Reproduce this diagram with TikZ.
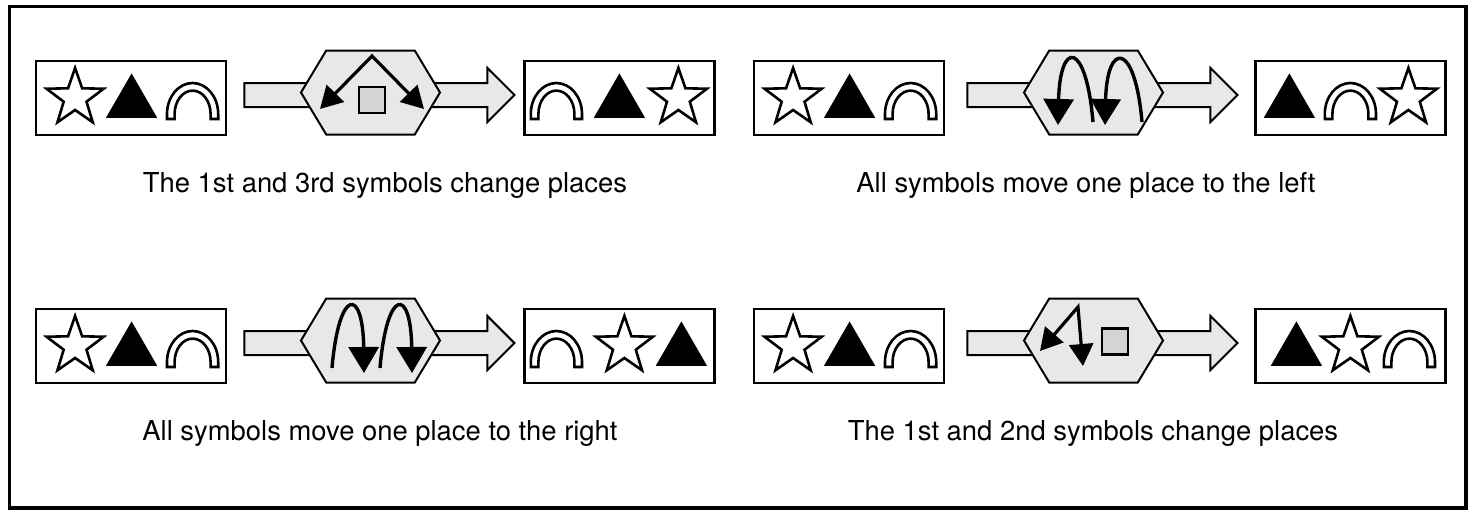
\documentclass[tikz,border=0pt]{standalone}
\usepackage{fontspec}
\setmainfont{TeX Gyre Heros}
\usepackage{xcolor}
\definecolor{cShade}{HTML}{E8E8E8}
\definecolor{cSquare}{HTML}{D4D4D4}
\usepackage{tikz}
\usetikzlibrary{positioning,arrows.meta,calc,shapes.geometric,shapes.arrows,shapes.symbols}
\tikzset{
  outer-frame/.style={draw,line width=1.6pt},
  sym-box/.style={draw,line width=1.4pt,minimum width=95pt,minimum height=37pt,inner sep=0pt},
  big-arrow/.style={single arrow,draw,line width=1pt,fill=cShade,inner xsep=0pt,inner ysep=5.5pt,
    minimum height=135pt,single arrow head extend=7.5pt,single arrow tip angle=90},
  hex-box/.style={signal,signal to=east and west,signal pointer angle=118,draw,line width=1pt,
    fill=cShade,minimum width=69.5pt,minimum height=42pt,inner sep=0pt},
  mid-square/.style={draw,line width=1.25pt,fill=cSquare,minimum size=13pt,inner sep=0pt},
  sym-star/.style={star,star points=5,star point ratio=2.5,draw,line width=1.3pt,fill=white,
    minimum size=30pt,inner sep=0pt},
  sym-tri/.style={regular polygon,regular polygon sides=3,draw,line width=0.8pt,fill=black,
    minimum size=28pt,inner sep=0pt},
  sym-arch/.pic={
    \draw[line width=1.3pt,fill=white] (-12.8pt,0pt) -- (-12.8pt,2.5pt)
      arc[start angle=180,end angle=0,x radius=12.8pt,y radius=15.5pt] -- (12.8pt,0pt)
      -- (9pt,0pt) -- (9pt,2.5pt)
      arc[start angle=0,end angle=180,x radius=9pt,y radius=11.7pt] -- (-9pt,0pt) -- cycle;
  },
  swap-arrow/.style={line width=1.6pt,line join=miter,
    {Triangle[length=11pt,width=12pt]}-{Triangle[length=11pt,width=12pt]}},
  shift-arrow/.style={line width=1.7pt,-{Triangle[length=13pt,width=15pt]}},
  caption/.style={font=\fontsize{13.7}{16}\selectfont,anchor=base},
}

\begin{document}
\begin{tikzpicture}[x=0.5pt,y=-0.5pt]
  \useasboundingbox (0,0) rectangle (1474,510);
  \draw[outer-frame] (9.5,6.5) rectangle (1466,508);

  % --- boxes and flow arrows ---
  \node[sym-box] (lb1) at (131,98) {};
  \node[sym-box,right=148pt of lb1] (rb1) {};
  \node[big-arrow,right=8pt of lb1,yshift=1.5pt] (ar1) {};
  \node[hex-box] (hx1) at (370.5,92.5) {};

  \node[sym-box] (lb2) at (849,98) {};
  \node[sym-box,right=154.5pt of lb2] (rb2) {};
  \node[big-arrow,right=10.5pt of lb2,yshift=1.5pt] (ar2) {};
  \node[hex-box] (hx2) at (1093.5,92.5) {};

  \node[sym-box] (lb3) at (131,346) {};
  \node[sym-box,right=148pt of lb3] (rb3) {};
  \node[big-arrow,right=8pt of lb3,yshift=1.5pt] (ar3) {};
  \node[hex-box] (hx3) at (370.5,340.5) {};

  \node[sym-box] (lb4) at (849,346) {};
  \node[sym-box,right=154.5pt of lb4] (rb4) {};
  \node[big-arrow,right=10.5pt of lb4,yshift=1.5pt] (ar4) {};
  \node[hex-box] (hx4) at (1093.5,340.5) {};

  % --- start symbols ---
  \foreach \b in {lb1,lb2,lb3,lb4}{
    \node[sym-star] (\b-star) at ($(\b.west)+(40.5,0)$) {};
    \node[sym-tri] (\b-tri) at ($(\b.west)+(97,5)$) {};
    \pic at ($(\b.west)+(158,21)$) {sym-arch};
  }

  % --- result symbols ---
  \pic at ($(rb1.west)+(33,21)$) {sym-arch};
  \node[sym-tri] (rb1-tri) at ($(rb1.west)+(96,5)$) {};
  \node[sym-star] (rb1-star) at ($(rb1.west)+(155,0)$) {};

  \node[sym-tri] (rb2-tri) at ($(rb2.west)+(35,5)$) {};
  \pic at ($(rb2.west)+(96,21)$) {sym-arch};
  \node[sym-star] (rb2-star) at ($(rb2.west)+(154,0)$) {};

  \pic at ($(rb3.west)+(33,21)$) {sym-arch};
  \node[sym-star] (rb3-star) at ($(rb3.west)+(101,0)$) {};
  \node[sym-tri] (rb3-tri) at ($(rb3.west)+(158,5)$) {};

  \node[sym-tri] (rb4-tri) at ($(rb4.west)+(42,5)$) {};
  \node[sym-star] (rb4-star) at ($(rb4.west)+(96,0)$) {};
  \pic at ($(rb4.west)+(155,21)$) {sym-arch};

  % --- operations ---
  \coordinate (hx1-top) at (372,56);
  \coordinate (hx1-l) at (320,109);
  \coordinate (hx1-r) at (424,109);
  \draw[swap-arrow] (hx1-l) -- (hx1-top) -- (hx1-r);
  \node[mid-square] (sq1) at (372,100) {};

  \coordinate (hx2-t1) at (1093,122);
  \coordinate (hx2-h1) at (1058,125);
  \coordinate (hx2-t2) at (1142,122);
  \coordinate (hx2-h2) at (1105,125);
  \draw[shift-arrow] (hx2-t1) .. controls (1086,40) and (1060,40) .. (hx2-h1);
  \draw[shift-arrow] (hx2-t2) .. controls (1135,41) and (1107,41) .. (hx2-h2);

  \coordinate (hx3-t1) at (332,368);
  \coordinate (hx3-h1) at (364,373);
  \coordinate (hx3-t2) at (380,368);
  \coordinate (hx3-h2) at (412,373);
  \draw[shift-arrow] (hx3-t1) .. controls (339,287) and (363,287) .. (hx3-h1);
  \draw[shift-arrow] (hx3-t2) .. controls (387,287) and (411,287) .. (hx3-h2);

  \coordinate (hx4-top) at (1078,307);
  \coordinate (hx4-l) at (1040,351);
  \coordinate (hx4-d) at (1083,366);
  \draw[swap-arrow] (hx4-l) -- (hx4-top) -- (hx4-d);
  \node[mid-square] (sq4) at (1115,341.5) {};

  % --- captions ---
  \node[caption] (cap1) at (385,192) {The 1st and 3rd symbols change places};
  \node[caption] (cap2) at (1086,192) {All symbols move one place to the left};
  \node[caption] (cap3) at (380,440) {All symbols move one place to the right};
  \node[caption] (cap4) at (1093,440) {The 1st and 2nd symbols change places};
\end{tikzpicture}
\end{document}
